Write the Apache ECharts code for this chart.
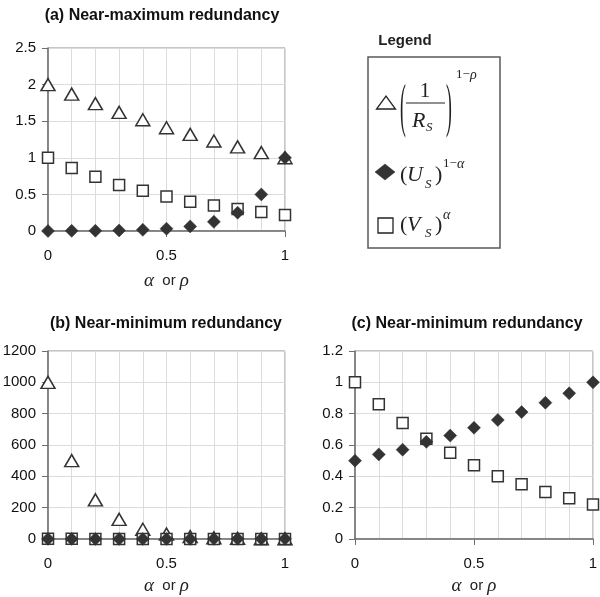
<!DOCTYPE html>
<html>
<head>
<meta charset="utf-8">
<script src="https://cdn.jsdelivr.net/npm/echarts@6/dist/echarts.min.js"></script>
<style>
  html, body { margin: 0; padding: 0; background: #fff; }
  #main { width: 600px; height: 597px; }
</style>
</head>
<body>
<div id="main"></div>
<script>
// alpha or rho along the x axis
var alphaRho = [0, 0.1, 0.2, 0.3, 0.4, 0.5, 0.6, 0.7, 0.8, 0.9, 1];

// (a) near-maximum redundancy
var triA = [2, 1.87, 1.74, 1.62, 1.52, 1.41, 1.32, 1.23, 1.15, 1.07, 1];
var diaA = [0.001, 0.002, 0.004, 0.008, 0.016, 0.031, 0.063, 0.125, 0.25, 0.5, 1];
var sqA = [1, 0.86, 0.74, 0.63, 0.55, 0.47, 0.40, 0.35, 0.30, 0.26, 0.22];

// (b) and (c) near-minimum redundancy
var triB = [1000, 500, 250, 125, 62.5, 31.3, 15.6, 7.8, 3.9, 2.0, 1];
var diaC = [0.5, 0.54, 0.57, 0.62, 0.66, 0.71, 0.76, 0.81, 0.87, 0.93, 1];
var sqC = [1, 0.86, 0.74, 0.64, 0.55, 0.47, 0.40, 0.35, 0.30, 0.26, 0.22];

var titles = ['(a) Near-maximum redundancy', '(b) Near-minimum redundancy', '(c) Near-minimum redundancy'];
var yMax = [2.5, 1200, 1.2];
var yStep = [0.5, 200, 0.2];
var nameGaps = [40, 37, 37];

var SANS = 'Liberation Sans, Arial, sans-serif';
var SERIF = 'Liberation Serif, Times New Roman, serif';
var INK = '#333333';

function pairs(xs, ys) {
  var out = [];
  for (var i = 0; i < xs.length; i++) {
    out.push([xs[i], ys[i]]);
  }
  return out;
}

function xAxisFor(idx) {
  return {
    type: 'value', gridIndex: idx, min: 0, max: 1, interval: 0.5,
    axisLine: { show: true, onZero: false, lineStyle: { color: '#6e6e6e', width: 1.5 } },
    axisTick: { show: true, length: 6, lineStyle: { color: '#6e6e6e' } },
    axisLabel: { fontSize: 15, fontFamily: SANS, color: '#111', margin: 17,
      formatter: function (v) { return String(v); } },
    splitLine: { show: true, lineStyle: { color: '#dcdcdc' } },
    minorTick: { show: false, splitNumber: 5 },
    minorSplitLine: { show: true, lineStyle: { color: '#dcdcdc' } },
    name: '{g|α}  or {g|ρ}', nameLocation: 'middle', nameGap: nameGaps[idx],
    nameTextStyle: {
      fontSize: 15, fontFamily: SANS, color: '#222',
      rich: { g: { fontFamily: SERIF, fontStyle: 'italic', fontSize: 19, color: '#222' } }
    }
  };
}

function yAxisFor(idx) {
  return {
    type: 'value', gridIndex: idx, min: 0, max: yMax[idx], interval: yStep[idx],
    axisLine: { show: true, onZero: false, lineStyle: { color: '#6e6e6e', width: 1.5 } },
    axisTick: { show: true, length: 6, lineStyle: { color: '#6e6e6e' } },
    axisLabel: { fontSize: 15, fontFamily: SANS, color: '#111', margin: 12,
      formatter: function (v) { return String(v); } },
    splitLine: { show: true, lineStyle: { color: '#dcdcdc' } }
  };
}

function triSeries(idx, ys) {
  return {
    type: 'scatter', xAxisIndex: idx, yAxisIndex: idx, data: pairs(alphaRho, ys),
    symbol: 'triangle', symbolSize: [14, 12], z: 2,
    itemStyle: { color: '#fff', borderColor: INK, borderWidth: 1.5, opacity: 1 },
    emphasis: { disabled: true }
  };
}
function sqSeries(idx, ys) {
  return {
    type: 'scatter', xAxisIndex: idx, yAxisIndex: idx, data: pairs(alphaRho, ys),
    symbol: 'rect', symbolSize: 11, z: 3,
    itemStyle: { color: '#fff', borderColor: INK, borderWidth: 1.5, opacity: 1 },
    emphasis: { disabled: true }
  };
}
function diaSeries(idx, ys) {
  return {
    type: 'scatter', xAxisIndex: idx, yAxisIndex: idx, data: pairs(alphaRho, ys),
    symbol: 'diamond', symbolSize: 13, z: 4,
    itemStyle: { color: INK, borderColor: INK, borderWidth: 0.5, opacity: 1 },
    emphasis: { disabled: true }
  };
}

function txt(x, y, s, size, opts) {
  opts = opts || {};
  return {
    type: 'text', x: x, y: y, scaleX: opts.scaleX || 1, scaleY: opts.scaleY || 1, silent: true,
    style: {
      text: s, fontSize: size, fontFamily: opts.family || SERIF,
      fontStyle: opts.italic ? 'italic' : 'normal', fontWeight: opts.bold ? 'bold' : 'normal',
      fill: '#222', align: opts.align || 'left', verticalAlign: 'middle'
    }
  };
}

var legendGraphics = [
  txt(405, 41, 'Legend', 15, { family: SANS, bold: true, align: 'center' }),
  { type: 'rect', shape: { x: 368, y: 57, width: 132, height: 191 }, silent: true,
    style: { fill: 'none', stroke: '#5a5a5a', lineWidth: 1.5 } },
  // triangle row
  { type: 'polygon', shape: { points: [[376.5, 109], [395.5, 109], [386, 96]] }, silent: true,
    style: { fill: '#fff', stroke: '#222', lineWidth: 1.3 } },
  txt(400, 109, '(', 22, { scaleY: 2.7, scaleX: 0.8 }),
  txt(425, 91, '1', 21, { align: 'center' }),
  { type: 'line', shape: { x1: 406, y1: 103, x2: 445, y2: 103 }, silent: true,
    style: { stroke: '#222', lineWidth: 1 } },
  txt(412, 121, 'R', 22, { italic: true }),
  txt(426, 128, 'S', 13, { italic: true }),
  txt(446, 109, ')', 22, { scaleY: 2.7, scaleX: 0.8 }),
  txt(456, 75, '1−', 13),
  txt(470, 75, 'ρ', 14, { italic: true }),
  // diamond row
  { type: 'polygon', shape: { points: [[375, 172], [385, 164], [395, 172], [385, 180]] }, silent: true,
    style: { fill: INK, stroke: INK, lineWidth: 0.5 } },
  txt(400, 175, '(', 22),
  txt(407, 175, 'U', 22, { italic: true }),
  txt(425, 185, 'S', 13, { italic: true }),
  txt(435, 175, ')', 22),
  txt(443, 164, '1−', 13),
  txt(457, 164, 'α', 14, { italic: true }),
  // square row
  { type: 'rect', shape: { x: 378, y: 218, width: 15, height: 15 }, silent: true,
    style: { fill: '#fff', stroke: '#222', lineWidth: 1.3 } },
  txt(400, 225, '(', 22),
  txt(407, 225, 'V', 22, { italic: true }),
  txt(425, 234, 'S', 13, { italic: true }),
  txt(435, 225, ')', 22),
  txt(443, 215, 'α', 14, { italic: true })
];

var chart = echarts.init(document.getElementById('main'), null, { renderer: 'canvas' });

var gridBase = { show: true, borderColor: '#8c8c8c', borderWidth: 1, containLabel: false, outerBoundsMode: 'none' };

var option = {
  backgroundColor: '#fff',
  animation: false,
  title: [
    { text: titles[0], left: 157, top: 3, textAlign: 'center',
      textStyle: { fontSize: 16, fontWeight: 'bold', fontFamily: SANS, color: '#111' } },
    { text: titles[1], left: 161, top: 311, textAlign: 'center',
      textStyle: { fontSize: 16, fontWeight: 'bold', fontFamily: SANS, color: '#111' } },
    { text: titles[2], left: 462, top: 311, textAlign: 'center',
      textStyle: { fontSize: 16, fontWeight: 'bold', fontFamily: SANS, color: '#111' } }
  ],
  grid: [
    Object.assign({ left: 48, top: 48, width: 237, height: 183 }, gridBase),
    Object.assign({ left: 48, top: 351, width: 237, height: 188 }, gridBase),
    Object.assign({ left: 355, top: 351, width: 238, height: 188 }, gridBase)
  ],
  xAxis: [xAxisFor(0), xAxisFor(1), xAxisFor(2)],
  yAxis: [yAxisFor(0), yAxisFor(1), yAxisFor(2)],
  series: [
    triSeries(0, triA), sqSeries(0, sqA), diaSeries(0, diaA),
    triSeries(1, triB), sqSeries(1, sqC), diaSeries(1, diaC),
    sqSeries(2, sqC), diaSeries(2, diaC)
  ],
  graphic: legendGraphics
};

chart.setOption(option);
</script>
</body>
</html>
